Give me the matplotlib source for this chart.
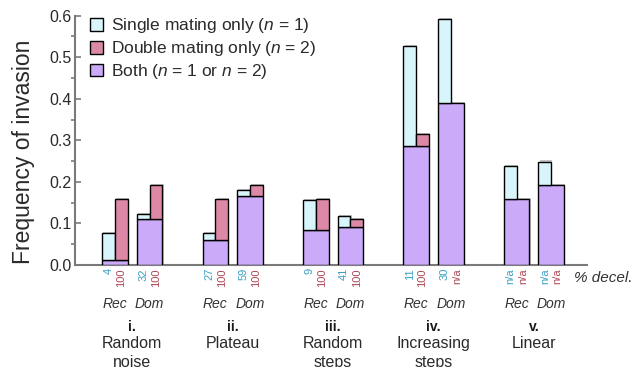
import numpy as np
import matplotlib

matplotlib.use("Agg")
import matplotlib.pyplot as plt
import matplotlib.patheffects as pe
from matplotlib.patches import Patch
from matplotlib.ticker import MultipleLocator, FormatStrFormatter

plt.rcParams["font.family"] = "Liberation Sans"
plt.rcParams["mathtext.fontset"] = "custom"
plt.rcParams["mathtext.rm"] = "Liberation Sans"
plt.rcParams["mathtext.it"] = "Liberation Sans:italic"

# Scenarios, each with a recessive and a dominant drive
scenario_numerals = ["i.", "ii.", "iii.", "iv.", "v."]
scenario_names = [["Random", "noise"], ["Plateau"], ["Random", "steps"],
                  ["Increasing", "steps"], ["Linear"]]
drive_types = ["Rec", "Dom"]

# Frequency of invasion per bar (Rec, Dom for each scenario in turn)
both = [0.012, 0.110, 0.060, 0.166, 0.084, 0.092, 0.287, 0.390, 0.158, 0.192]
single_only = [0.064, 0.012, 0.016, 0.015, 0.072, 0.025, 0.239, 0.202, 0.080, 0.057]
double_only = [0.146, 0.083, 0.098, 0.027, 0.074, 0.018, 0.029, 0.0, 0.0, 0.0]

# Percentage of deceleration under single / double mating
decel_single = ["4", "32", "27", "59", "9", "41", "11", "30", "n/a", "n/a"]
decel_double = ["100", "100", "100", "100", "100", "100", "100", "n/a", "n/a", "n/a"]

c_single = "#d8f5fc"
c_double = "#de88a8"
c_both = "#cbaaf9"
c_single_txt = "#3a9fc4"
c_double_txt = "#ad4655"
spine_col = "#7a7a7a"

group_step = 2.9
width = 0.74
pos = np.array([g * group_step + d for g in range(len(scenario_numerals)) for d in (0, 1)])

fig = plt.figure(figsize=(6.36, 3.67), dpi=100)
ax = fig.add_axes([0.1187, 0.2779, 0.8042, 0.6793])

shadow = [pe.SimplePatchShadow(offset=(0.8, 0.8), shadow_rgbFace="0.55", alpha=0.5), pe.Normal()]
kw = dict(edgecolor="black", linewidth=1.0, zorder=3)

bars = ax.bar(pos, both, width=width, color=c_both, **kw)
for b in bars:
    b.set_path_effects(shadow)
for p, base, s, d in zip(pos, both, single_only, double_only):
    if s > 0:
        r = ax.bar(p - width / 4, s, width=width / 2, bottom=base, color=c_single, **kw)
        r[0].set_path_effects(shadow)
    if d > 0:
        r = ax.bar(p + width / 4, d, width=width / 2, bottom=base, color=c_double, **kw)
        r[0].set_path_effects(shadow)

ax.set_xlim(-1.14, pos[-1] + 1.03)
ax.set_ylim(0, 0.6)

for side in ("top", "right"):
    ax.spines[side].set_visible(False)
for side in ("left", "bottom"):
    ax.spines[side].set_color(spine_col)
    ax.spines[side].set_linewidth(1.5)

ax.set_xticks([])
ax.yaxis.set_major_locator(MultipleLocator(0.1))
ax.yaxis.set_minor_locator(MultipleLocator(0.05))
ax.yaxis.set_major_formatter(FormatStrFormatter("%.1f"))
ax.tick_params(axis="y", which="major", direction="in", length=4, width=1.2,
               color=spine_col, labelsize=11.5, labelcolor="#2a2a2a", pad=3)
ax.tick_params(axis="y", which="minor", direction="out", length=3, width=1.2,
               color=spine_col)
ax.set_ylabel("Frequency of invasion", fontsize=16.5, color="#2a2a2a")
ax.yaxis.set_label_coords(-0.08, 0.455)

# Deceleration percentages, rotated under each half bar
ann = dict(xycoords=("data", "axes fraction"), textcoords="offset points",
           annotation_clip=False)
for p, s, d in zip(pos, decel_single, decel_double):
    ax.annotate(s, (p - 0.18, 0), xytext=(0, -2.2), rotation=90, ha="center",
                va="top", fontsize=8, color=c_single_txt, **ann)
    ax.annotate(d, (p + 0.18, 0), xytext=(0, -2.2), rotation=90, ha="center",
                va="top", fontsize=8, color=c_double_txt, **ann)

ax.annotate("% decel.", (pos[-1] + 1.03, 0), xytext=(-9.5, -12.5), ha="left",
            va="baseline", fontsize=11, style="italic", color="#333333", **ann)

for g, (numeral, name) in enumerate(zip(scenario_numerals, scenario_names)):
    x0 = g * group_step
    for d, lab in enumerate(drive_types):
        ax.annotate(lab, (x0 + d, 0), xytext=(0, -30.7), ha="center",
                    va="baseline", fontsize=10, style="italic", color="#333333", **ann)
    mid = x0 + 0.5
    ax.annotate(numeral, (mid, 0), xytext=(0, -47.3), ha="center", va="baseline",
                fontsize=10, fontweight="bold", color="#1a1a1a", **ann)
    for k, line in enumerate(name):
        ax.annotate(line, (mid, 0), xytext=(0, -59.5 - 13.6 * k), ha="center",
                    va="baseline", fontsize=11.5, color="#2a2a2a", **ann)

handles = [
    Patch(facecolor=c_single, edgecolor="black", linewidth=1.0),
    Patch(facecolor=c_double, edgecolor="black", linewidth=1.0),
    Patch(facecolor=c_both, edgecolor="black", linewidth=1.0),
]
labels = ["Single mating only ($n$ = 1)", "Double mating only ($n$ = 2)",
          "Both ($n$ = 1 or $n$ = 2)"]
ax.legend(handles, labels, loc="upper left", bbox_to_anchor=(0.015, 1.025),
          frameon=False, fontsize=12.5, handlelength=0.75, handleheight=0.75,
          handletextpad=0.45, labelspacing=0.22, borderaxespad=0.0,
          labelcolor="#2a2a2a")

plt.savefig("out.png", dpi=100, facecolor="white")
plt.close()
